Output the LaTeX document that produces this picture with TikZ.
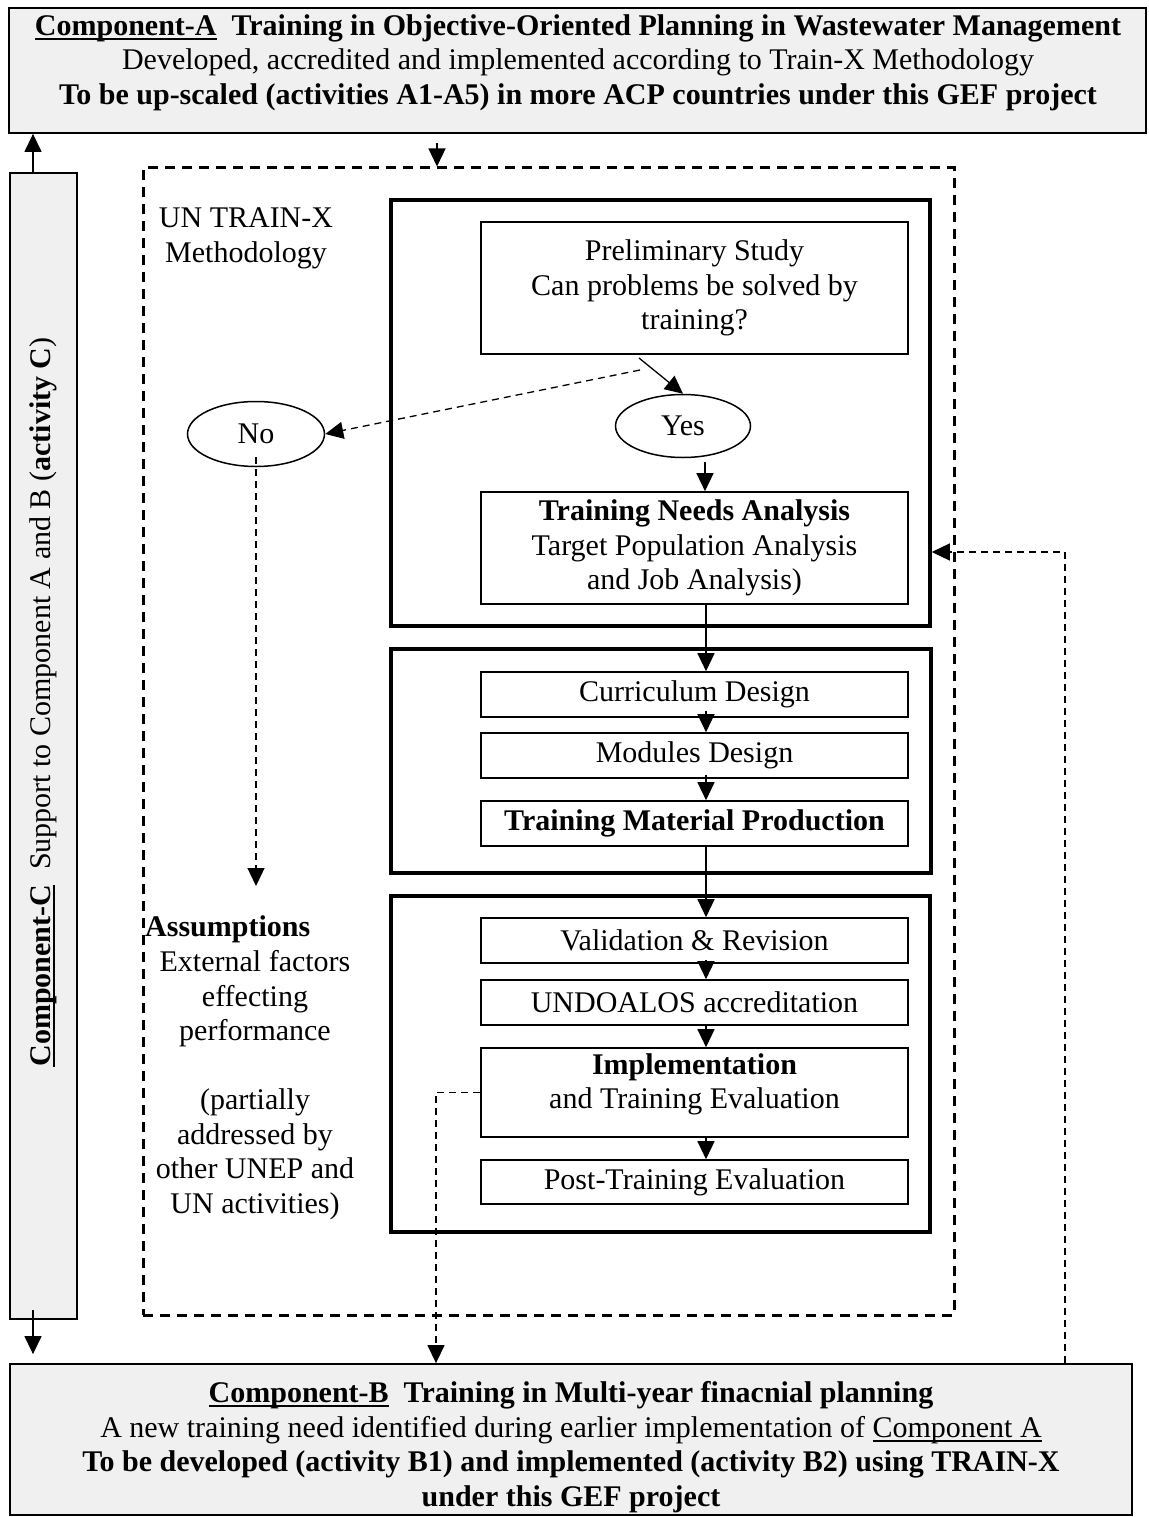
\documentclass[tikz,border=0pt]{standalone}
\usepackage{fontspec}
\setmainfont{Liberation Serif}
\usetikzlibrary{arrows.meta,shapes.geometric,calc}
\newcommand\myul[1]{\setbox0\hbox{#1}\rlap{\rule[-4.5pt]{\wd0}{2pt}}\box0}
\begin{document}
\begin{tikzpicture}[x=1pt,y=-1pt,
  font=\fontsize{30}{34.5}\selectfont,
  tip/.style={-{Triangle[length=18pt,width=17pt]}},
  thinline/.style={line width=1.3pt},
  dashline/.style={line width=1.3pt,dash pattern=on 7pt off 5pt},
  gbox/.style={draw,line width=1.8pt,fill=black!6,inner sep=0pt},
  stage/.style={draw,line width=3.5pt,inner sep=0pt},
  stepbox/.style={draw,line width=1.6pt,inner sep=0pt,minimum width=427pt,align=center},
  oval/.style={draw,ellipse,line width=1.5pt,inner sep=0pt},
  txt/.style={inner sep=0pt,align=center}]
\useasboundingbox (0,0) rectangle (1148,1517);
\fill[white] (0,0) rectangle (1148,1517);

% top box
\node[gbox,minimum width=1137pt,minimum height=125pt] (tbox) at (577.5,70.5) {};
\node[txt,anchor=north] (ttext) at (578,14) {\textbf{\myul{Component-A}\ \ Training in Objective-Oriented Planning in Wastewater Management}\\
Developed, accredited and implemented according to Train-X Methodology\\
\textbf{To be up-scaled (activities A1-A5) in more ACP countries under this GEF project}};

% bottom box
\node[gbox,minimum width=1122pt,minimum height=151pt] (bbox) at (571,1439.5) {};
\node[txt,anchor=north] (btext) at (571,1381.5) {\textbf{\myul{Component-B}\ \ Training in Multi-year finacnial planning}\\
A new training need identified during earlier implementation of \myul{Component A}\\
\textbf{To be developed (activity B1) and implemented (activity B2) using TRAIN-X}\\
\textbf{under this GEF project}};

% left column
\node[gbox,minimum width=67pt,minimum height=1146pt] (lcol) at (43.5,746) {};
\node[txt,rotate=90] (ltext) at (43,702) {\textbf{\myul{Component-C}}\ \ Support to Component A and B (\textbf{activity C})};

% methodology dashed frame
\node[draw,line width=3pt,dash pattern=on 10pt off 7pt,inner sep=0pt,minimum width=811pt,minimum height=1147pt] (method) at (548.5,741.5) {};
\node[txt,anchor=north] (mtext) at (246,207.5) {UN TRAIN-X\\Methodology};

% stage frames
\node[stage,minimum width=539pt,minimum height=426pt] (box1) at (660.5,413) {};
\node[stage,minimum width=540pt,minimum height=224pt] (box2) at (661,761) {};
\node[stage,minimum width=539pt,minimum height=336pt] (box3) at (660.5,1064) {};

% steps
\node[stepbox,minimum height=132pt] (prelim) at (694.5,288) {Preliminary Study\\Can problems be solved by\\training?};
\node[oval,minimum width=135pt,minimum height=63pt] (yes) at (683,426) {Yes};
\node[oval,minimum width=137pt,minimum height=65pt] (no) at (256,434) {No};
\node[stepbox,minimum height=112pt] (tna) at (694.5,548) {\textbf{Training Needs Analysis}\\Target Population Analysis\\and Job Analysis)};
\node[stepbox,minimum height=45pt] (curr) at (694.5,694.5) {Curriculum Design};
\node[stepbox,minimum height=45pt] (mod) at (694.5,755.5) {Modules Design};
\node[stepbox,minimum height=45pt] (tmp) at (694.5,823.5) {\textbf{Training Material Production}};
\node[stepbox,minimum height=45pt] (val) at (694.5,940.5) {Validation \& Revision};
\node[stepbox,minimum height=45pt] (undo) at (694.5,1002.5) {UNDOALOS accreditation};
\node[stepbox,minimum height=89pt] (impl) at (694.5,1092.5) {};
\node[txt] (impltext) at (694.5,1084.5) {\textbf{Implementation}\\and Training Evaluation};
\node[stepbox,minimum height=44pt] (post) at (694.5,1182) {Post-Training Evaluation};

% assumptions
\node[inner sep=0pt,anchor=base west] (asm) at (145,936) {\textbf{Assumptions}};
\node[txt,anchor=north] (asmtext) at (255,950.5) {External factors\\effecting\\performance\\[34.5pt](partially\\addressed by\\other UNEP and\\UN activities)};

% helper coordinates
\coordinate (xa) at (706,0);
\coordinate (ya) at (705,462);
\coordinate (pa) at (639,358);
\coordinate (da) at (640,370);
\coordinate (nobot) at (256,457);
\coordinate (asmtop) at (256,886);
\coordinate (ib) at (436,0);
\coordinate (fb) at (1065,552);
\coordinate (lx) at (33,0);
\coordinate (ta) at (437,143);

% solid connectors
\draw[thinline,tip] (pa) -- (yes.north);
\draw[thinline,tip] (ya) -- (ya |- tna.north);
\draw[thinline,tip] (tna.south -| xa) -- (curr.north -| xa);
\draw[thinline,tip] ([yshift=7pt]curr.south -| xa) -- (mod.north -| xa);
\draw[thinline,tip] ([yshift=4pt]mod.south -| xa) -- (tmp.north -| xa);
\draw[thinline,tip] (tmp.south -| xa) -- (val.north -| xa);
\draw[thinline,tip] ([yshift=4pt]val.south -| xa) -- (undo.north -| xa);
\draw[thinline,tip] (undo.south -| xa) -- (impl.north -| xa);
\draw[thinline,tip] (impl.south -| xa) -- (post.north -| xa);
\draw[thinline,tip] (lcol.north -| lx) -- (tbox.south -| lx);
\draw[thinline,tip,shorten >=9pt] ([yshift=10pt]lcol.south -| lx) -- (bbox.north -| lx);
\draw[thinline,tip] (ta) -- (method.north -| ta);

% dashed connectors
\draw[dashline,tip] (da) -- (no.east);
\draw[dashline,tip] (nobot) -- (asmtop);
\draw[dashline,tip] (impl.west) -| (bbox.north -| ib);
\draw[dashline,tip] (bbox.north -| fb) |- (box1.east |- fb);
\end{tikzpicture}
\end{document}
